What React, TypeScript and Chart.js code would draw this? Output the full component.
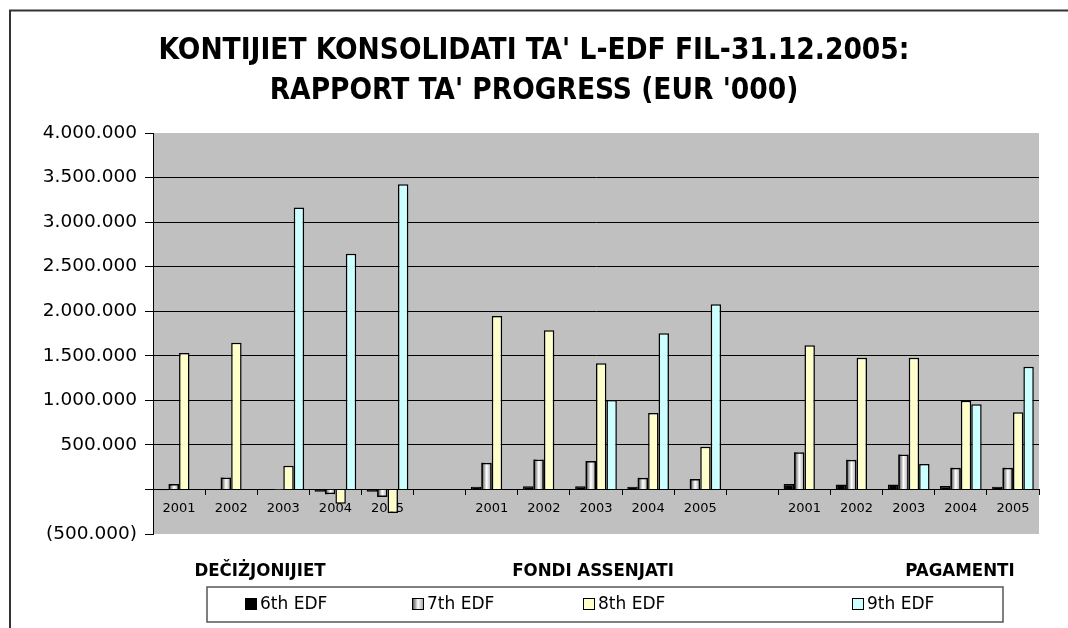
import React, { useEffect, useRef } from 'react';
import { Chart, registerables } from 'chart.js';

Chart.register(...registerables);

// ---- data ----
const yearLabels = ['2001', '2002', '2003', '2004', '2005'];
const groupNames = ['DEČIŻJONIJIET', 'FONDI ASSENJATI', 'PAGAMENTI'];
const seriesNames = ['6th EDF', '7th EDF', '8th EDF', '9th EDF'];
const titleLines = ["KONTIJIET KONSOLIDATI TA' L-EDF FIL-31.12.2005:", "RAPPORT TA' PROGRESS (EUR '000)"];
const yTickValues = [-500000, 0, 500000, 1000000, 1500000, 2000000, 2500000, 3000000, 3500000, 4000000];

// DEČIŻJONIJIET
const decizjonijiet6 = [-8000, 2000, -5000, -25000, -25000];
const decizjonijiet7 = [60000, 135000, 3000, -55000, -85000];
const decizjonijiet8 = [1530000, 1645000, 265000, -160000, -265000];
const decizjonijiet9 = [0, 0, 3165000, 2645000, 3425000];
// FONDI ASSENJATI
const fondi6 = [30000, 35000, 35000, 30000, 3000];
const fondi7 = [300000, 337000, 318000, 131000, 116000];
const fondi8 = [1947000, 1787000, 1416000, 858000, 479000];
const fondi9 = [0, 0, 1003000, 1753000, 2079000];
// PAGAMENTI
const pagamenti6 = [60000, 55000, 55000, 40000, 30000];
const pagamenti7 = [416000, 333000, 393000, 243000, 243000];
const pagamenti8 = [1618000, 1479000, 1477000, 996000, 865000];
const pagamenti9 = [0, 0, 285000, 955000, 1378000];

const fillColors = ['#000000', '#ffffff', '#FFFFCC', '#CCFFFF'];

const join = (a: (number | null)[], b: (number | null)[], c: (number | null)[]) => [...a, null, ...b, null, ...c];
const categories = [...yearLabels, '', ...yearLabels, '', ...yearLabels];
const seriesData = [
  join(decizjonijiet6, fondi6, pagamenti6),
  join(decizjonijiet7, fondi7, pagamenti7),
  join(decizjonijiet8, fondi8, pagamenti8),
  join(decizjonijiet9, fondi9, pagamenti9),
];

const fmt = (v: number) => {
  if (v === 0) return '';
  const s = Math.abs(v).toString().replace(/\B(?=(\d{3})+(?!\d))/g, '.');
  return v < 0 ? `(${s})` : s;
};

const TITLE_FONT = '"DejaVu Sans Condensed", "Liberation Sans Narrow", "DejaVu Sans", sans-serif';
const BODY_FONT = '"DejaVu Sans", Verdana, sans-serif';

function stripeGradient(ctx: CanvasRenderingContext2D, x0: number, x1: number) {
  const g = ctx.createLinearGradient(x0, 0, x1, 0);
  g.addColorStop(0, '#3a3a3a');
  g.addColorStop(0.5, '#ffffff');
  g.addColorStop(1, '#9a9a9a');
  return g;
}

const decorPlugin = {
  id: 'decor',
  beforeDraw(chart: any) {
    const { ctx, chartArea: a, width, height } = chart;
    ctx.save();
    ctx.fillStyle = '#ffffff';
    ctx.fillRect(0, 0, width, height);
    ctx.fillStyle = '#C0C0C0';
    ctx.fillRect(a.left, a.top, a.right - a.left, a.bottom - a.top);
    // outer frame
    ctx.strokeStyle = '#333333';
    ctx.lineWidth = 2;
    ctx.beginPath();
    ctx.moveTo(10, height + 5);
    ctx.lineTo(10, 10.5);
    ctx.lineTo(width + 5, 10.5);
    ctx.stroke();
    ctx.restore();
  },
  beforeDatasetDraw(chart: any, args: any) {
    if (args.index !== 1) return;
    const ctx = chart.ctx;
    ctx.save();
    args.meta.data.forEach((el: any) => {
      const p = el.getProps(['x', 'y', 'base', 'width'], true);
      if (p.y == null || isNaN(p.y)) return;
      const x0 = p.x - p.width / 2;
      const x1 = p.x + p.width / 2;
      ctx.fillStyle = stripeGradient(ctx, x0, x1);
      ctx.fillRect(x0, Math.min(p.y, p.base), p.width, Math.abs(p.base - p.y));
    });
    ctx.restore();
  },
  afterDraw(chart: any) {
    const { ctx } = chart;
    ctx.save();
    // title
    ctx.fillStyle = '#000';
    ctx.textAlign = 'center';
    ctx.textBaseline = 'middle';
    ctx.font = `bold 29.5px ${TITLE_FONT}`;
    ctx.fillText(titleLines[0], 534, 51);
    ctx.fillText(titleLines[1], 534, 91);
    // group labels
    ctx.font = `bold 18.5px ${TITLE_FONT}`;
    const groupCenters = [260, 593, 960];
    groupNames.forEach((g, i) => ctx.fillText(g, groupCenters[i], 571));
    // legend box
    ctx.strokeStyle = '#555';
    ctx.lineWidth = 1.5;
    ctx.fillStyle = '#fff';
    ctx.fillRect(207, 587, 796, 35);
    ctx.strokeRect(207, 587, 796, 35);
    const legendX = [245, 412, 583, 852];
    ctx.font = `17px ${BODY_FONT}`;
    ctx.textAlign = 'left';
    seriesNames.forEach((name, i) => {
      const bx = legendX[i];
      const by = 598;
      const s = 12;
      if (i === 1) ctx.fillStyle = stripeGradient(ctx, bx, bx + s);
      else ctx.fillStyle = fillColors[i];
      ctx.fillRect(bx, by, s, s);
      ctx.strokeStyle = '#000';
      ctx.lineWidth = 1;
      ctx.strokeRect(bx + 0.5, by + 0.5, s - 1, s - 1);
      ctx.fillStyle = '#000';
      ctx.fillText(name, bx + 15, 605);
    });
    ctx.restore();
  },
};

export default function App() {
  const ref = useRef<HTMLCanvasElement | null>(null);
  useEffect(() => {
    if (!ref.current) return;
    const chart = new Chart(ref.current, {
      type: 'bar',
      data: {
        labels: categories,
        datasets: seriesNames.map((name, i) => ({
          label: name,
          data: seriesData[i],
          backgroundColor: i === 1 ? 'rgba(0,0,0,0)' : fillColors[i],
          borderColor: '#000',
          borderWidth: 1.5,
          categoryPercentage: 0.8,
          barPercentage: 1,
        })),
      },
      options: {
        animation: false,
        responsive: false,
        devicePixelRatio: 1,
        layout: { padding: { left: 0, right: 29, top: 133, bottom: 94 } },
        plugins: {
          legend: { display: false },
          title: { display: false },
          tooltip: { enabled: false },
        },
        scales: {
          x: {
            position: { y: 0 } as any,
            offset: true,
            grid: {
              offset: true,
              drawOnChartArea: false,
              drawTicks: true,
              tickLength: 5,
              tickColor: '#000',
              color: '#000',
            },
            border: { display: true, color: '#000', width: 1 },
            ticks: {
              autoSkip: false,
              maxRotation: 0,
              padding: 6,
              color: '#000',
              font: { family: BODY_FONT, size: 13 },
            },
          },
          y: {
            min: -500000,
            max: 4000000,
            afterBuildTicks: (scale: any) => {
              scale.ticks = yTickValues.map((v) => ({ value: v }));
            },
            afterFit: (scale: any) => {
              scale.width = 153;
            },
            grid: {
              color: (c: any) => {
                const v = c.tick ? c.tick.value : 0;
                return v > -500000 && v < 4000000 ? '#000' : 'rgba(0,0,0,0)';
              },
              tickColor: '#000',
              tickLength: 8,
              lineWidth: 1,
            },
            border: { display: true, color: '#000', width: 1 },
            ticks: {
              padding: 8,
              color: '#000',
              font: { family: BODY_FONT, size: 18.5 },
              callback: (v: any) => fmt(Number(v)),
            },
          },
        },
      },
      plugins: [decorPlugin],
    });
    return () => chart.destroy();
  }, []);
  return (
    <div style={{ position: 'fixed', left: 0, top: 0, width: 1068, height: 628 }}>
      <canvas ref={ref} width={1068} height={628} style={{ display: 'block', width: 1068, height: 628 }} />
    </div>
  );
}
